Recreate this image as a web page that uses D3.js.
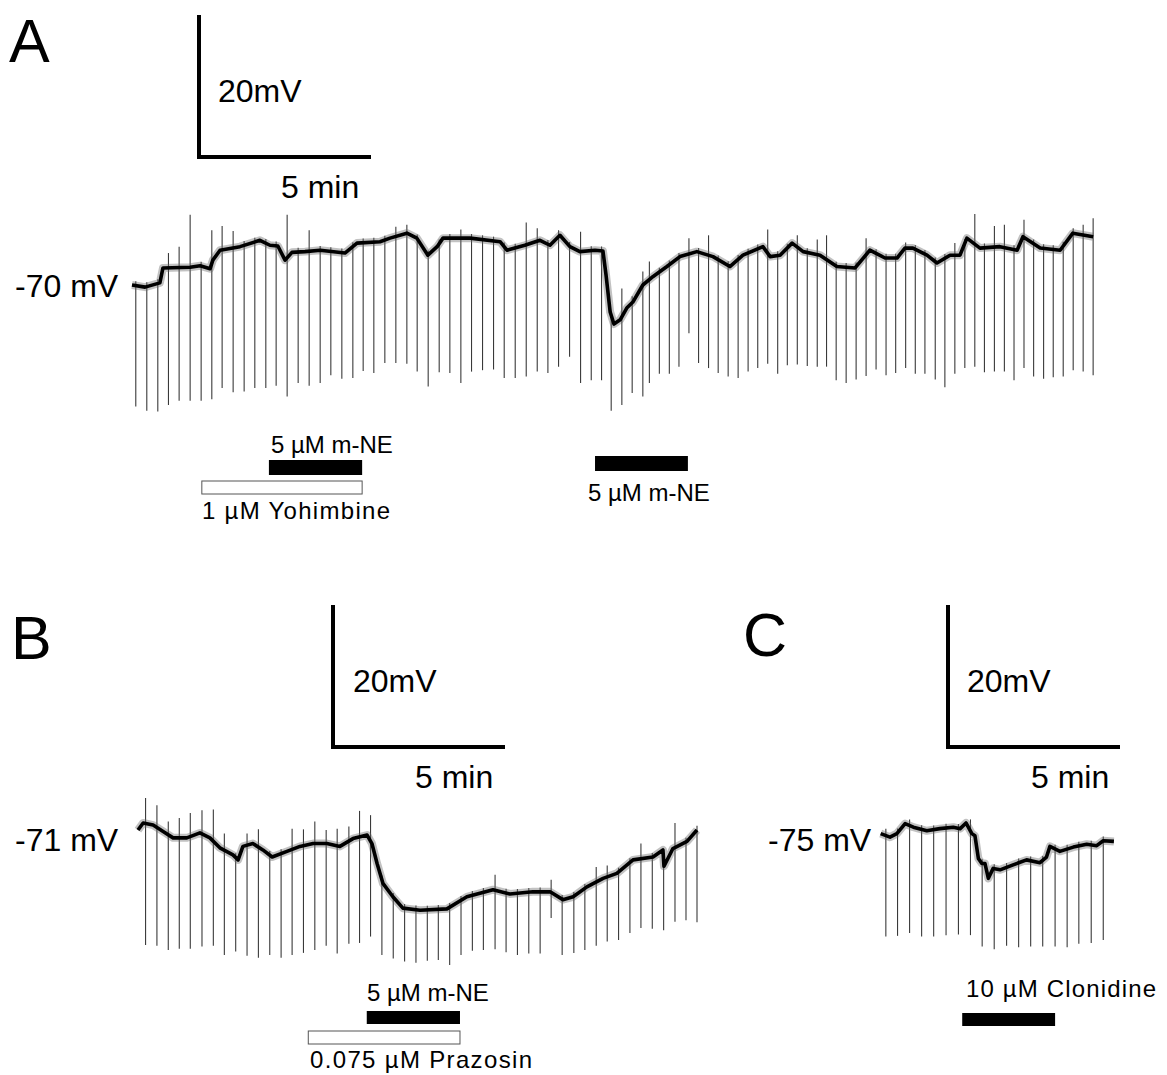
<!DOCTYPE html>
<html><head><meta charset="utf-8">
<script src="https://cdn.jsdelivr.net/npm/d3@7"></script>
<style>
body{margin:0;background:#fff}
text{font-family:"Liberation Sans",Arial,sans-serif;fill:#000}
</style>
</head><body>
<svg id="fig" width="1167" height="1075"></svg>
<script>
// ---------- DATA (time in min, membrane potential in mV) ----------
const baselineA = [[0,-70.0],[0.38,-70.3],[0.81,-69.7],[0.90,-67.6],[1.69,-67.5],[1.98,-67.3],[2.27,-67.7],[2.35,-66.5],[2.56,-65.1],[3.14,-64.6],[3.72,-63.7],[4.01,-64.4],[4.24,-64.5],[4.45,-66.5],[4.65,-65.4],[5.03,-65.3],[5.47,-65.1],[6.19,-65.5],[6.54,-64.1],[7.21,-63.9],[7.50,-63.4],[7.99,-62.7],[8.28,-63.4],[8.60,-65.8],[8.87,-64.6],[9.04,-63.4],[9.83,-63.4],[10.70,-63.9],[10.90,-65.1],[11.42,-64.4],[11.86,-63.7],[12.15,-64.4],[12.44,-63.0],[12.73,-64.6],[13.02,-65.3],[13.46,-65.1],[13.69,-65.2],[13.78,-68.6],[13.90,-73.8],[14.01,-75.5],[14.19,-74.9],[14.39,-73.2],[14.56,-72.4],[14.85,-70.0],[15.15,-68.8],[15.55,-67.4],[15.93,-66.0],[16.42,-65.3],[16.89,-66.0],[17.38,-67.4],[17.76,-65.8],[18.34,-64.6],[18.55,-66.0],[18.84,-65.8],[19.19,-64.1],[19.51,-65.3],[20.00,-65.8],[20.49,-67.4],[21.02,-67.6],[21.45,-65.1],[21.89,-66.2],[22.24,-66.2],[22.47,-64.8],[22.70,-64.8],[23.11,-65.8],[23.40,-66.9],[23.78,-65.8],[24.07,-65.8],[24.27,-63.4],[24.65,-64.8],[25.23,-64.6],[25.73,-65.1],[25.90,-63.2],[26.40,-64.8],[26.98,-65.1],[27.35,-62.7],[27.94,-63.2]];
const pulsesA = [[0.11,-87.1],[0.43,-87.7],[0.75,-87.8],[1.06,-86.9],[1.37,-86.3],[1.69,-86.3],[2.01,-86.3],[2.32,-86.1],[2.62,-84.5],[2.94,-85.1],[3.26,-85.0],[3.57,-84.5],[3.89,-84.5],[4.19,-84.2],[4.51,-85.7],[4.83,-83.8],[5.15,-84.2],[5.47,-83.8],[5.78,-82.7],[6.10,-83.2],[6.42,-83.1],[6.72,-82.1],[7.03,-82.4],[7.35,-81.0],[7.67,-81.0],[7.99,-81.1],[8.29,-82.2],[8.61,-84.3],[8.93,-82.3],[9.24,-82.4],[9.56,-83.8],[9.87,-82.2],[10.19,-82.0],[10.51,-81.9],[10.82,-83.1],[11.14,-83.1],[11.46,-82.9],[11.78,-82.2],[12.09,-82.4],[12.40,-81.5],[12.72,-80.1],[13.04,-83.8],[13.35,-83.4],[13.65,-83.4],[13.93,-87.7],[14.24,-86.9],[14.54,-85.2],[14.85,-85.7],[15.04,-83.8],[15.33,-82.5],[15.62,-82.5],[15.90,-81.5],[16.19,-76.8],[16.47,-81.0],[16.76,-81.7],[17.04,-82.4],[17.33,-82.9],[17.62,-83.1],[17.91,-82.2],[18.19,-81.7],[18.48,-81.1],[18.77,-82.5],[19.05,-81.3],[19.34,-81.2],[19.63,-81.4],[19.92,-81.5],[20.19,-81.5],[20.47,-83.4],[20.76,-83.8],[21.05,-83.3],[21.34,-82.8],[21.63,-81.9],[21.92,-82.7],[22.20,-82.4],[22.49,-81.7],[22.77,-82.5],[23.05,-82.5],[23.35,-83.3],[23.63,-84.4],[23.92,-82.5],[24.21,-81.7],[24.50,-81.5],[24.78,-82.3],[25.07,-82.2],[25.36,-82.2],[25.64,-83.4],[25.93,-81.7],[26.21,-82.9],[26.50,-83.2],[26.78,-83.0],[27.07,-82.9],[27.36,-82.0],[27.65,-82.2],[27.94,-82.7]];
const spikesA = [[1.06,-65.5],[1.37,-64.6],[1.69,-60.1],[2.32,-62.3],[2.62,-61.7],[2.94,-62.4],[4.51,-60.1],[5.15,-62.3],[7.67,-61.8],[7.99,-61.5],[9.56,-62.2],[11.46,-61.2],[11.78,-62.0],[12.40,-62.3],[13.04,-62.5],[14.24,-70.5],[14.54,-71.6],[14.85,-68.1],[15.04,-66.7],[16.19,-63.4],[16.76,-63.0],[18.48,-62.2],[19.34,-63.0],[19.92,-63.6],[20.19,-63.0],[21.34,-63.4],[22.49,-64.0],[23.92,-64.1],[24.50,-60.0],[25.07,-61.7],[25.36,-61.5],[25.93,-60.8],[27.36,-62.0],[27.65,-61.5],[27.94,-60.6]];
const drugsA = [
  {label:"5 µM m-NE", start:3.98, end:6.69, kind:"filled"},
  {label:"1 µM Yohimbine", start:2.03, end:6.69, kind:"open"},
  {label:"5 µM m-NE", start:13.46, end:16.16, kind:"filled"}
];

const baselineB = [[0,-69.6],[0.15,-68.6],[0.44,-68.9],[0.73,-69.8],[1.02,-70.7],[1.42,-70.7],[1.80,-70.0],[2.09,-70.7],[2.38,-72.1],[2.76,-73.1],[2.91,-73.8],[3.05,-71.9],[3.34,-71.5],[3.63,-72.4],[3.90,-73.4],[4.33,-72.6],[4.71,-71.9],[5.09,-71.5],[5.49,-71.5],[5.87,-71.9],[6.25,-70.8],[6.66,-70.3],[6.80,-71.5],[6.95,-74.3],[7.12,-77.1],[7.41,-79.0],[7.70,-80.6],[8.20,-80.9],[8.98,-80.7],[9.56,-79.0],[10.32,-78.0],[10.81,-78.6],[11.48,-78.3],[11.98,-78.3],[12.35,-79.4],[12.65,-79.0],[13.05,-77.6],[13.52,-76.4],[13.92,-75.7],[14.39,-73.8],[14.97,-73.4],[15.26,-72.4],[15.29,-74.7],[15.55,-72.2],[15.96,-71.2],[16.25,-69.6]];
const pulsesB = [[0.22,-85.8],[0.55,-85.9],[0.88,-86.5],[1.20,-86.3],[1.52,-86.3],[1.86,-86.0],[2.19,-85.9],[2.51,-87.2],[2.84,-86.7],[3.17,-87.3],[3.50,-87.6],[3.83,-87.2],[4.16,-87.6],[4.48,-87.2],[4.81,-86.9],[5.14,-86.5],[5.47,-85.9],[5.79,-87.0],[6.13,-85.6],[6.44,-85.5],[6.76,-84.6],[7.09,-87.2],[7.42,-87.7],[7.75,-88.1],[8.08,-88.3],[8.41,-88.0],[8.73,-87.9],[9.06,-88.6],[9.39,-87.2],[9.72,-86.6],[10.04,-86.5],[10.38,-86.4],[10.70,-86.8],[11.03,-87.2],[11.36,-87.0],[11.69,-87.0],[12.01,-82.0],[12.33,-87.2],[12.67,-86.9],[12.99,-86.5],[13.32,-85.9],[13.64,-85.3],[13.97,-85.1],[14.30,-84.1],[14.62,-83.4],[14.95,-83.5],[15.28,-83.7],[15.61,-82.5],[15.93,-82.3],[16.25,-82.6]];
const spikesB = [[0.22,-65.1],[0.55,-66.1],[0.88,-68.4],[1.20,-67.9],[1.52,-67.2],[1.86,-66.8],[2.19,-66.7],[2.51,-70.1],[3.17,-70.1],[3.50,-69.5],[4.48,-69.4],[4.81,-69.5],[5.14,-68.4],[5.47,-69.6],[5.79,-69.4],[6.13,-69.1],[6.44,-66.9],[6.76,-67.5],[10.38,-75.9],[12.01,-76.6],[13.32,-74.8],[13.64,-74.6],[14.62,-71.5],[15.61,-68.6],[16.25,-69.4]];
const drugsB = [
  {label:"5 µM m-NE", start:6.65, end:9.36, kind:"filled"},
  {label:"0.075 µM Prazosin", start:4.95, end:9.36, kind:"open"}
];

const baselineC = [[0.02,-74.1],[0.29,-74.6],[0.49,-74.1],[0.73,-72.7],[0.97,-73.2],[1.36,-73.7],[1.74,-73.4],[2.13,-73.2],[2.33,-73.4],[2.50,-72.6],[2.67,-74.1],[2.76,-74.4],[2.86,-77.6],[2.96,-78.3],[3.05,-78.3],[3.15,-80.4],[3.29,-79.0],[3.49,-79.2],[3.87,-78.5],[4.26,-77.8],[4.65,-78.2],[4.84,-77.4],[4.94,-75.9],[5.23,-76.6],[5.62,-76.0],[6.01,-75.6],[6.30,-75.8],[6.49,-75.1],[6.80,-75.2]];
const pulsesC = [[0.17,-88.6],[0.51,-88.5],[0.86,-88.1],[1.21,-88.6],[1.56,-88.6],[1.92,-88.4],[2.28,-88.3],[2.63,-88.4],[2.97,-90.0],[3.32,-90.4],[3.68,-89.9],[4.03,-90.1],[4.38,-90.0],[4.73,-90.0],[5.09,-90.0],[5.44,-90.1],[5.78,-89.6],[6.14,-89.5],[6.49,-89.1]];
const spikesC = [[0.17,-73.4],[0.86,-72.1],[2.63,-72.1]];
const drugsC = [
  {label:"10 µM Clonidine", start:2.39, end:5.09, kind:"filled"}
];

const panelLetters = ["A","B","C"];
const restLabels = ["-70 mV","-71 mV","-75 mV"];
const restPotentials = [-70,-71,-75];
const scaleBarValues = {time:5, volt:20, timeLabel:"5 min", voltLabel:"20mV"};

// ---------- LAYOUT ----------
const PX_PER_MIN = 172/5, PX_PER_MV = 142/20;
const svg = d3.select("#fig");
svg.append("rect").attr("width",1167).attr("height",1075).attr("fill","#fff");

const layouts = [
  {x0:132, y0:285, letter:[9,62], rest:[15,297], sb:[199,157], sbV:[218,102], sbT:[281,198],
   drugs:[{y:460,h:15,lx:271,ly:453},{y:481,h:13,lx:202,ly:519,w:188},{y:456,h:15,lx:588,ly:501}]},
  {x0:138, y0:840, letter:[11,659], rest:[15,851], sb:[333,747], sbV:[353,692], sbT:[415,788],
   drugs:[{y:1011,h:13,lx:367,ly:1001},{y:1031,h:13,lx:310,ly:1068,w:222}]},
  {x0:880, y0:840, letter:[743,656], rest:[768,851], sb:[948,747], sbV:[967,692], sbT:[1031,788],
   drugs:[{y:1013,h:13,lx:966,ly:997,w:190}]}
];
const datasets = [
  {baseline:baselineA, pulses:pulsesA, spikes:spikesA, drugs:drugsA},
  {baseline:baselineB, pulses:pulsesB, spikes:spikesB, drugs:drugsB},
  {baseline:baselineC, pulses:pulsesC, spikes:spikesC, drugs:drugsC}
];

datasets.forEach((ds,i)=>{
  const L = layouts[i], vRef = restPotentials[i];
  const x = d3.scaleLinear().domain([0,5]).range([L.x0, L.x0+5*PX_PER_MIN]);
  const y = d3.scaleLinear().domain([vRef, vRef+20]).range([L.y0, L.y0-20*PX_PER_MV]);
  const g = svg.append("g");

  g.append("text").attr("x",L.letter[0]).attr("y",L.letter[1]).attr("font-size",61).text(panelLetters[i]);
  g.append("text").attr("x",L.rest[0]).attr("y",L.rest[1]).attr("font-size",32).text(restLabels[i]);

  // scale bar
  const sbW = x(scaleBarValues.time)-x(0), sbH = y(vRef)-y(vRef+scaleBarValues.volt);
  const [sx,sy] = L.sb;
  g.append("path").attr("d",`M${sx},${sy-sbH}V${sy}H${sx+sbW}`)
    .attr("fill","none").attr("stroke","#000").attr("stroke-width",4).attr("stroke-linejoin","miter");
  g.append("text").attr("x",L.sbV[0]).attr("y",L.sbV[1]).attr("font-size",32).text(scaleBarValues.voltLabel);
  g.append("text").attr("x",L.sbT[0]).attr("y",L.sbT[1]).attr("font-size",32).text(scaleBarValues.timeLabel);

  const bis = d3.bisector(d=>d[0]).left;
  const baseAt = t => {
    const b = ds.baseline; let k = bis(b,t);
    if (k<=0) return b[0][1]; if (k>=b.length) return b[b.length-1][1];
    const a=b[k-1], c=b[k], f=(t-a[0])/(c[0]-a[0]); return a[1]+f*(c[1]-a[1]);
  };
  const spikeMap = new Map(ds.spikes.map(d=>[d[0],d[1]]));

  // pulses
  g.append("g").selectAll("line").data(ds.pulses).join("line")
    .attr("x1",d=>x(d[0])).attr("x2",d=>x(d[0]))
    .attr("y1",d=>{const b=baseAt(d[0]); const s=spikeMap.get(d[0]); return y(s!==undefined? Math.max(s,b+0.6): b+0.6);})
    .attr("y2",d=>y(d[1]))
    .attr("stroke","#3a3a3a").attr("stroke-width",1.1);

  // membrane potential trace
  const line = d3.line().x(d=>x(d[0])).y(d=>y(d[1]));
  g.append("path").datum(ds.baseline).attr("d",line).attr("fill","none")
    .attr("stroke","#666").attr("stroke-width",8).attr("stroke-opacity",0.4).attr("stroke-linejoin","round");
  g.append("path").datum(ds.baseline).attr("d",line).attr("fill","none")
    .attr("stroke","#000").attr("stroke-width",3.6).attr("stroke-linejoin","round");

  // drug application bars
  ds.drugs.forEach((d,j)=>{
    const D = L.drugs[j];
    g.append("rect").attr("x",x(d.start)).attr("y",D.y).attr("width",x(d.end)-x(d.start)).attr("height",D.h)
      .attr("fill", d.kind==="filled" ? "#000" : "#fff")
      .attr("stroke", d.kind==="filled" ? "none" : "#555").attr("stroke-width",1);
    const t = g.append("text").attr("x",D.lx).attr("y",D.ly).attr("font-size",24).text(d.label);
    if (D.w) t.attr("textLength",D.w).attr("lengthAdjust","spacing");
  });
});
</script>
</body></html>
